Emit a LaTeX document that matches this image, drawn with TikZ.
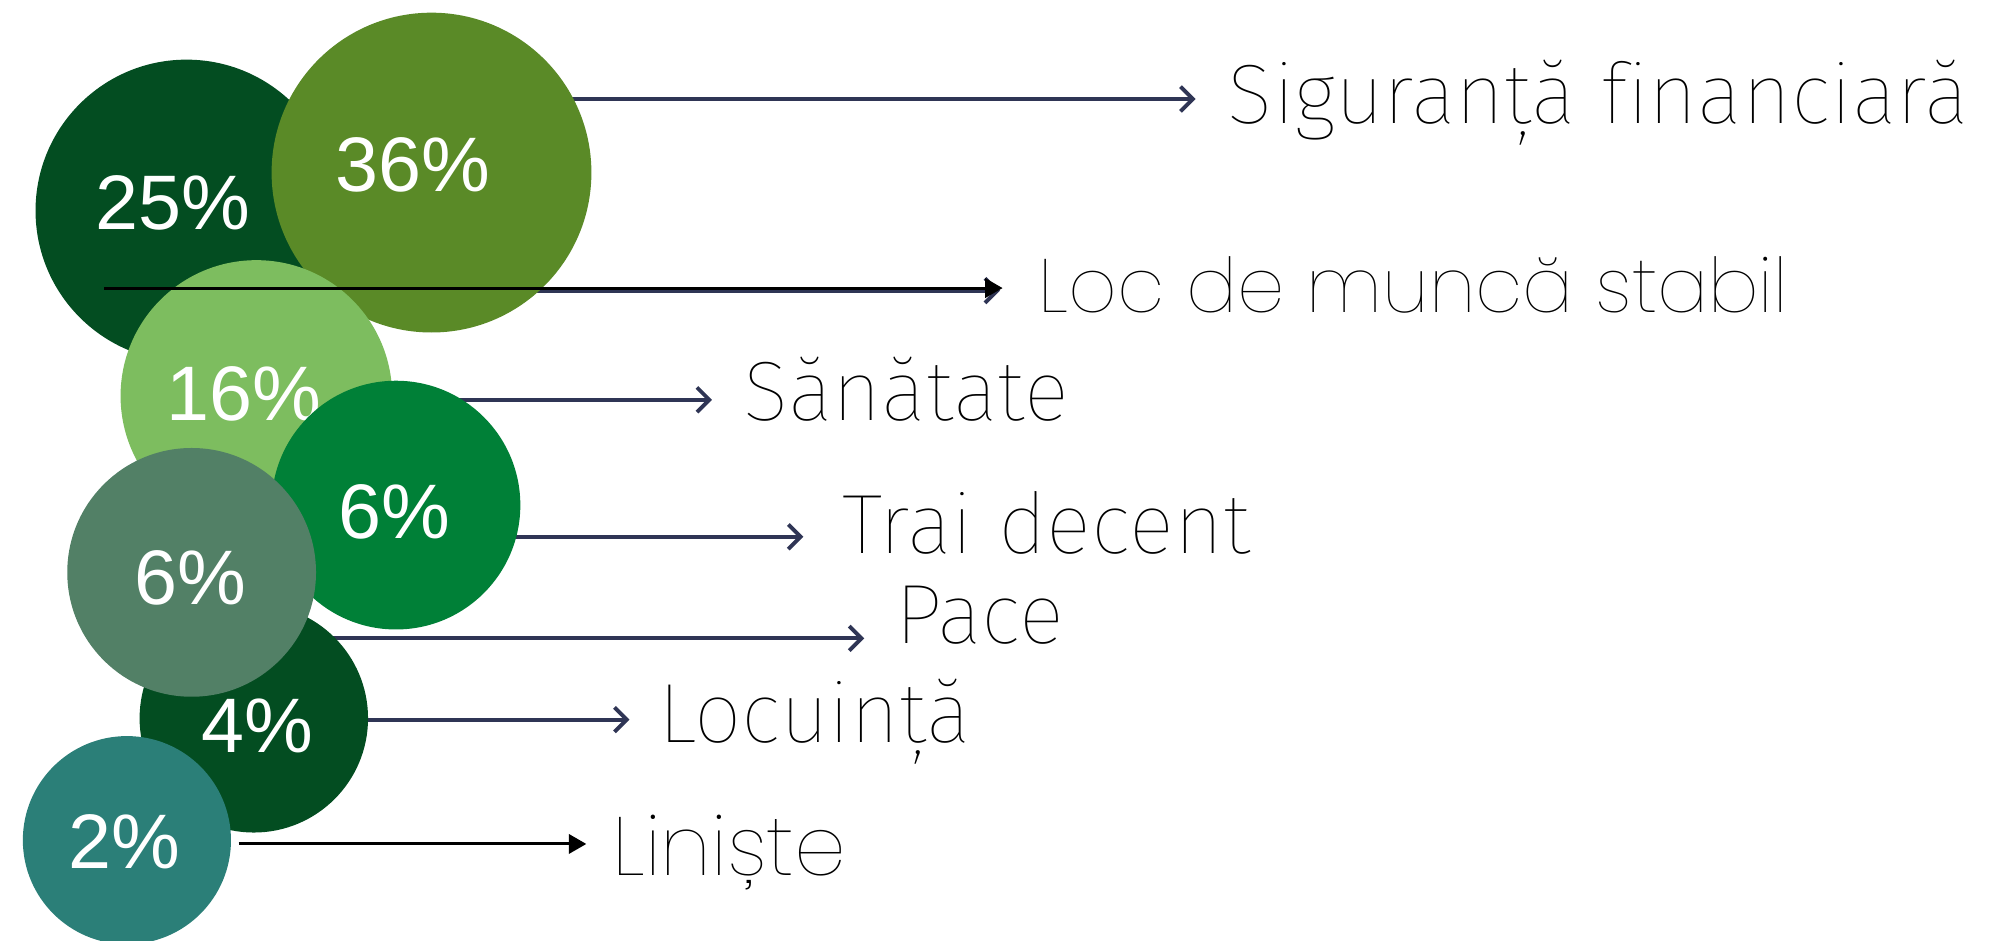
\documentclass[tikz,border=0pt]{standalone}
\usepackage{fontspec}
\setmainfont{Liberation Sans}
\newfontfamily\humfont{Fira Sans Thin}[Ligatures=NoCommon]
\newfontfamily\geofont{Poppins Thin}
\usetikzlibrary{arrows.meta}

\definecolor{darkgr}{HTML}{034D21}
\definecolor{olivegr}{HTML}{5A8A27}
\definecolor{lightgr}{HTML}{7DBD5F}
\definecolor{midgr}{HTML}{008037}
\definecolor{greygr}{HTML}{528066}
\definecolor{tealgr}{HTML}{2B7F78}
\definecolor{navy}{HTML}{2F3555}

\newcommand{\setup}{
    \coordinate (z25) at (147,166);
    \coordinate (z36) at (340,136);
    \coordinate (z16) at (202,312);
    \coordinate (z6a) at (312,398);
    \coordinate (z6b) at (151,451);
    \coordinate (z4)  at (200,566);
    \coordinate (z2)  at (100,662);

    \coordinate (t1) at (942,78);
    \coordinate (t2) at (788,229);
    \coordinate (t3) at (561,315);
    \coordinate (t4) at (633,423);
    \coordinate (t5) at (681,503);
    \coordinate (t6) at (496,567);
    \coordinate (s2) at (82,227);
    \coordinate (e2) at (790,227);
    \coordinate (s7) at (188,665);
    \coordinate (e7) at (462,665);
}
\newcommand{\bubble}[3]{
  \fill[#3] (#1) circle (#2);
}

\tikzset{
  pct/.style={text=white, inner sep=0pt, font=\fontsize{22}{24}\selectfont},
  lbl/.style={anchor=base west, inner sep=0pt, text=black, font=\humfont\fontsize{24}{26}\selectfont},
  lblgeo/.style={lbl, font=\geofont\fontsize{21.5}{24}\selectfont},
  navyarr/.style={draw=navy, line width=1.1pt, -{Straight Barb[length=3.5pt,width=7pt,line width=1.1pt]}},
  blackarr/.style={draw=black, line width=0.85pt, -{Triangle[length=5pt,width=5.5pt]}},
}

\begin{document}
\begin{tikzpicture}[x=0.012691cm,y=-0.012691cm]
  \useasboundingbox (0,0) rectangle (1568,741);
  \setup;

  % labels
  \node[lbl]    (l1) at (967,97)  {Siguranță financiară};
  \node[lblgeo] (l2) at (818,246) {Loc de muncă stabil};
  \node[lbl]    (l3) at (585,331) {Sănătate};
  \node[lbl]    (l4) at (663,436) {Trai decent};
  \node[lbl]    (l5) at (705,507) {Pace};
  \node[lbl]    (l6) at (518,585) {Locuință};
  \node[lblgeo, font=\geofont\fontsize{23.5}{26}\selectfont] (l7) at (482,690) {Liniște};

  % arrows behind the bubbles
  \draw[navyarr] (z36 |- t1) -- (t1);
  \draw[navyarr] (z36 |- t2) -- (t2);
  \draw[navyarr] (z16 |- t3) -- (t3);
  \draw[navyarr] (z6a |- t4) -- (t4);
  \draw[navyarr] (z4 |- t5) -- (t5);
  \draw[navyarr] (z4 |- t6) -- (t6);

  \bubble{z25}{119}{darkgr};
  \node[pct] (p25) at (136,160) {25\%};
  \bubble{z36}{126}{olivegr};
  \node[pct] (p36) at (325,130) {36\%};
  \bubble{z16}{107}{lightgr};
  \node[pct] (p16) at (192,310) {16\%};
  \bubble{z6a}{98}{midgr};
  \node[pct] (p6a) at (311,403) {6\%};
  \bubble{z4}{90}{darkgr};
  \node[pct] (p4) at (203,572) {4\%};
  \bubble{z6b}{98}{greygr};
  \node[pct] (p6b) at (150,455) {6\%};
  \bubble{z2}{82}{tealgr};
  \node[pct] (p2) at (98,663) {2\%};

  \draw[blackarr] (s2) -- (e2);
  \draw[blackarr] (s7) -- (e7);
\end{tikzpicture}
\end{document}
